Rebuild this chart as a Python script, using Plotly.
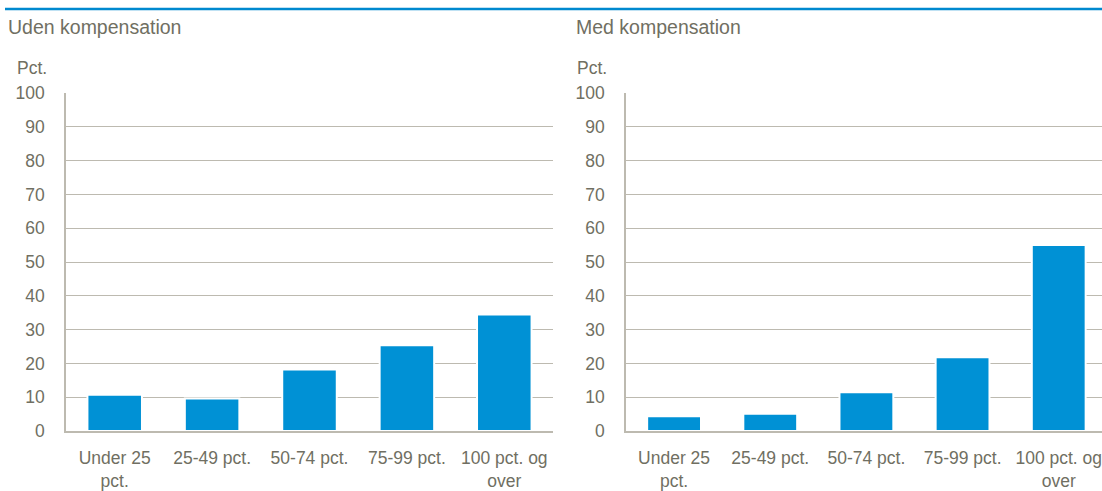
import plotly.graph_objects as go

categories = ["Under 25<br>pct.", "25-49 pct.", "50-74 pct.", "75-99 pct.", "100 pct. og<br>over"]
uden_values = [10.7, 9.6, 18.2, 25.4, 34.5]
med_values = [4.4, 5.1, 11.5, 21.8, 55.0]
panel_titles = ["Uden kompensation", "Med kompensation"]
y_ticks = list(range(0, 101, 10))

W, H = 1102, 491
BAR = "#0091D5"
TXT = "#706F62"
GRID = "#BDBAB0"
FONT = "Liberation Sans, Arial"

fig = go.Figure()
fig.add_trace(go.Bar(x=categories, y=uden_values, marker=dict(color=BAR, line=dict(color="white", width=2)),
                     width=0.56, xaxis="x", yaxis="y", showlegend=False))
fig.add_trace(go.Bar(x=categories, y=med_values, marker=dict(color=BAR, line=dict(color="white", width=2)),
                     width=0.56, xaxis="x2", yaxis="y2", showlegend=False))

ydom = [1 - 431 / H, 1 - 93 / H]
common_y = dict(range=[0, 100], tickvals=y_ticks, showgrid=True, gridcolor=GRID, gridwidth=1,
                showline=True, linecolor=GRID, linewidth=1.5, ticks="", zeroline=False, automargin=False,
                tickfont=dict(family=FONT, size=17.5, color=TXT), ticklabelstandoff=16, domain=ydom)
common_x = dict(showline=True, linecolor=GRID, linewidth=1.5, ticks="", showgrid=False, automargin=False,
                tickfont=dict(family=FONT, size=17.5, color=TXT), ticklabelstandoff=10)

fig.update_layout(
    width=W, height=H,
    margin=dict(l=0, r=0, t=0, b=0, autoexpand=False),
    paper_bgcolor="white", plot_bgcolor="white",
    bargap=0.44,
    xaxis=dict(domain=[66 / W, 553 / W], anchor="y", range=[-0.5, 4.5], **common_x),
    yaxis=dict(anchor="x", **common_y),
    xaxis2=dict(domain=[626 / W, 1.0], anchor="y2", range=[-0.5, 4.45], **common_x),
    yaxis2=dict(anchor="x2", **common_y),
    font=dict(family=FONT, color=TXT),
    shapes=[dict(type="line", xref="paper", yref="paper", x0=5 / W, x1=1, y0=1 - 9 / H, y1=1 - 9 / H,
                 line=dict(color="#0089CF", width=2.5))],
    annotations=[
        dict(text=panel_titles[0], xref="paper", yref="paper", x=6 / W, y=1 - 27 / H,
             xanchor="left", yanchor="middle", showarrow=False, font=dict(family=FONT, size=19.5, color=TXT)),
        dict(text=panel_titles[1], xref="paper", yref="paper", x=574 / W, y=1 - 27 / H,
             xanchor="left", yanchor="middle", showarrow=False, font=dict(family=FONT, size=19.5, color=TXT)),
        dict(text="Pct.", xref="paper", yref="paper", x=15 / W, y=1 - 68 / H,
             xanchor="left", yanchor="middle", showarrow=False, font=dict(family=FONT, size=17.5, color=TXT)),
        dict(text="Pct.", xref="paper", yref="paper", x=575 / W, y=1 - 68 / H,
             xanchor="left", yanchor="middle", showarrow=False, font=dict(family=FONT, size=17.5, color=TXT)),
    ],
)

fig.write_html("out.html", config={"displayModeBar": False},
               post_script="document.body.style.margin='0';document.body.style.overflow='hidden';")
